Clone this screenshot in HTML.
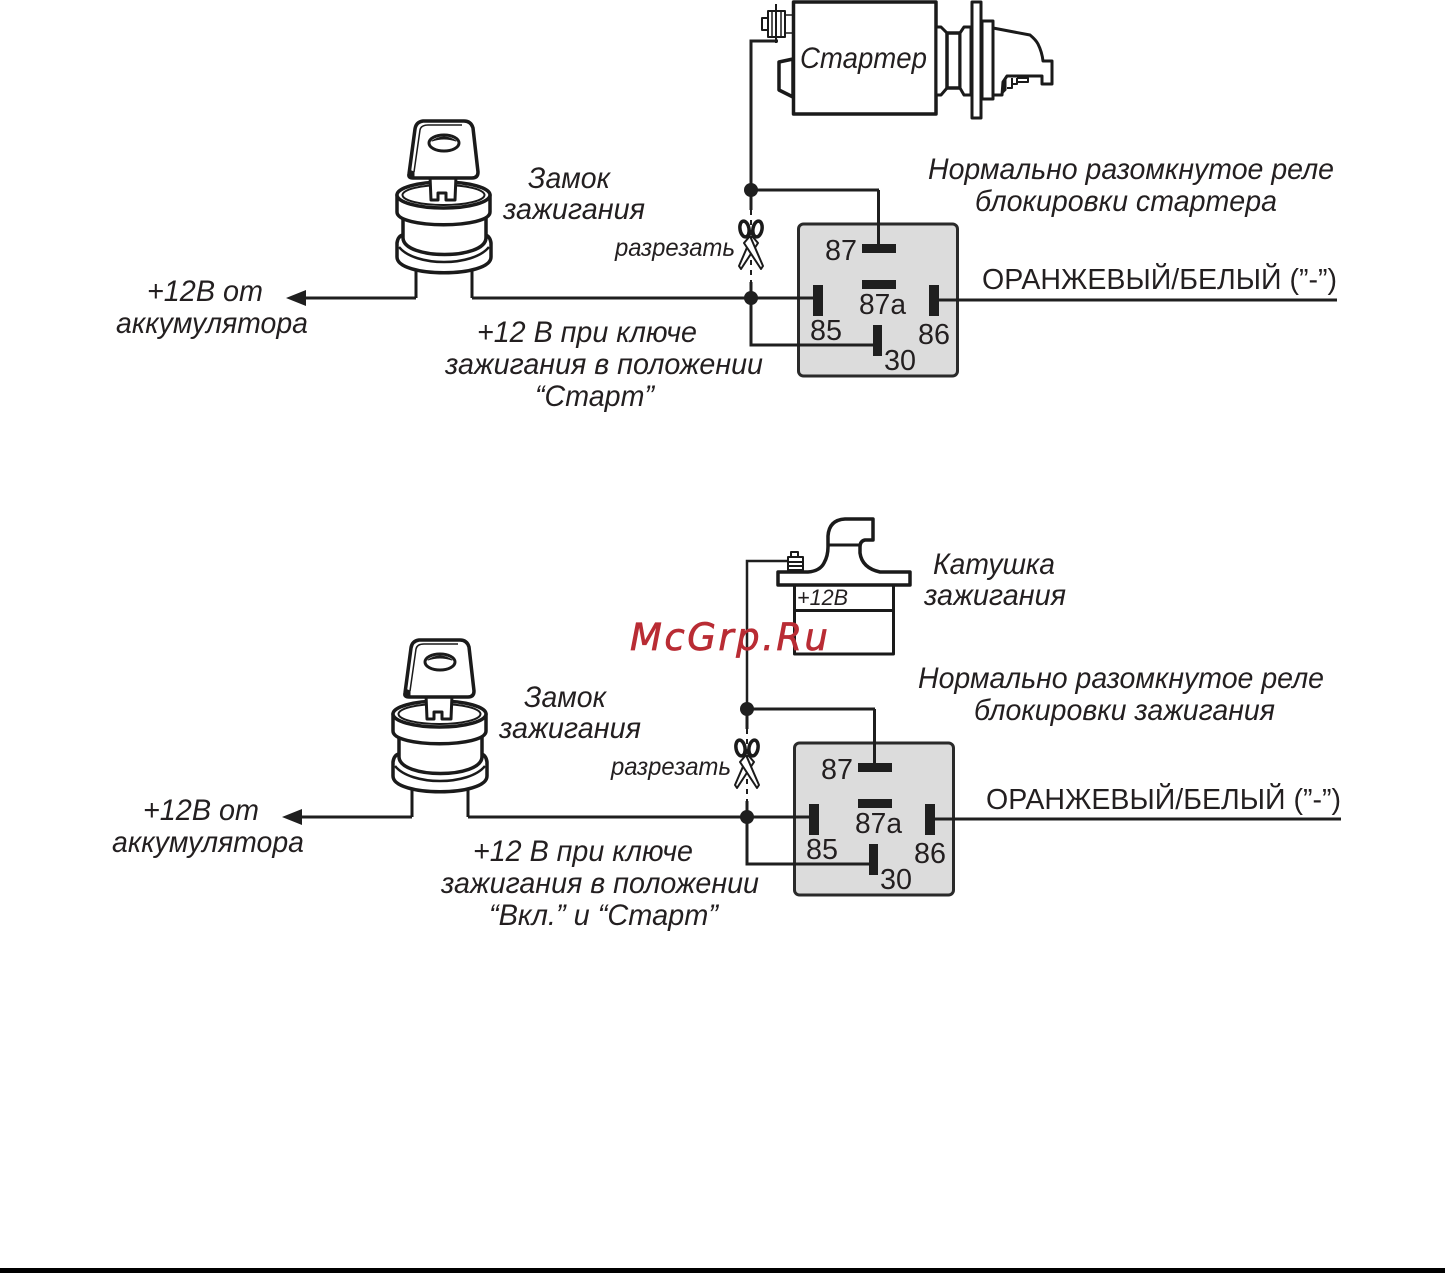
<!DOCTYPE html>
<html><head><meta charset="utf-8"><style>
html,body{margin:0;padding:0;background:#fff;width:1445px;height:1273px;overflow:hidden}
svg{display:block}
text{font-family:"Liberation Sans",sans-serif;fill:#231f20}
.i{font-style:italic;font-size:29.5px;transform:translate(0,1px)}
.s{font-style:italic;font-size:25px}
.n{font-size:29px}
</style></head><body>
<svg width="1445" height="1273" viewBox="0 0 1445 1273" xmlns="http://www.w3.org/2000/svg">
<defs>
<g id="lock" fill="#fff" stroke="#1a1a1a" stroke-width="3.500" stroke-linejoin="round">
<path d="M416 298V270H472V298" fill="none" stroke-width="3"/>
<path d="M397 243Q398 236 403 235H485Q490 236 491 243V257C491 278 397 278 397 257Z"/>
<path d="M403 215V238C404 260 485 260 486 238V215Z"/>
<path d="M399 247C415 267 473 267 489 247" fill="none" stroke-width="2.500"/>
<path d="M397 195V212C397 229 490 229 490 212V195Z"/>
<ellipse cx="443.500" cy="195" rx="46.500" ry="13"/>
<ellipse cx="443.500" cy="195" rx="41" ry="10" stroke-width="2"/>
<path d="M430 176H456L455 200H446V193H438V200H431Z" stroke-width="3"/>
<path d="M409 174L415 129Q416 122 423 121H464Q471 121 473 128L478 172Q478 178 472 178H413Q408 178 409 174Z" stroke-width="3.500"/>
<path d="M414 172L420 130Q421 125 428 125H462" fill="none" stroke-width="1.500"/>
<path d="M409 170L408 176Q409 179 414 178L414 172Z" fill="#1a1a1a" stroke-width="1"/>
<ellipse cx="444" cy="143" rx="15" ry="8" stroke-width="3"/>
<path d="M432 141Q444 133 456 141Q444 137 432 141Z" fill="#1a1a1a" stroke-width="1"/>
</g>
<g id="relay">
<rect x="798.500" y="224" width="159" height="152" rx="5" fill="#dcdcdc" stroke="#2a2a2a" stroke-width="3"/>
<rect x="862" y="244" width="34" height="9" fill="#1f1f1f"/>
<rect x="862" y="280" width="34" height="9" fill="#1f1f1f"/>
<rect x="813" y="285" width="10" height="31" fill="#1f1f1f"/>
<rect x="929" y="285" width="10" height="31" fill="#1f1f1f"/>
<rect x="873" y="325" width="9" height="31" fill="#1f1f1f"/>
<text class="n" x="825" y="260" textLength="32" lengthAdjust="spacingAndGlyphs">87</text>
<text class="n" x="859" y="314" textLength="47" lengthAdjust="spacingAndGlyphs">87a</text>
<text class="n" x="810" y="340" textLength="32" lengthAdjust="spacingAndGlyphs">85</text>
<text class="n" x="918" y="344" textLength="32" lengthAdjust="spacingAndGlyphs">86</text>
<text class="n" x="884" y="370" textLength="32" lengthAdjust="spacingAndGlyphs">30</text>
<path d="M751 298H813M751 298V345H873" fill="none" stroke="#1f1f1f" stroke-width="3"/>
<path d="M878.500 190V244" fill="none" stroke="#1f1f1f" stroke-width="3"/>
<path d="M939 300H1337" fill="none" stroke="#1f1f1f" stroke-width="3"/>
<circle cx="751" cy="298" r="7" fill="#1f1f1f"/>
<circle cx="751" cy="190" r="7" fill="#1f1f1f"/>
</g>
<g id="scissors" fill="#fff" stroke="#1a1a1a" stroke-width="2" stroke-linejoin="round">
<path d="M752 236L739 266L741 269L758 243Z"/>
<path d="M750 236L763 266L761 269L744 243Z"/>
<ellipse cx="744.500" cy="229" rx="4.500" ry="8" stroke-width="3.500" transform="rotate(-10 744.500 229)"/>
<ellipse cx="757.500" cy="229" rx="4.500" ry="8" stroke-width="3.500" transform="rotate(10 757.500 229)"/>
</g>
<g id="wires" fill="none" stroke="#1f1f1f" stroke-width="3">
<path d="M300 298H416"/>
<path d="M472 298H751"/>
<path d="M751 190V210"/>
<path d="M751 210V282" stroke-dasharray="5 5" stroke-width="2"/>
<path d="M751 282V298"/>
</g>
</defs>

<!-- top diagram -->
<use href="#wires"/>
<path d="M286 298L306 290V306Z" fill="#1f1f1f"/>
<path d="M751 190V41H778" fill="none" stroke="#1f1f1f" stroke-width="3"/>
<path d="M751 190H879" fill="none" stroke="#1f1f1f" stroke-width="3"/>
<use href="#lock"/>
<use href="#scissors"/>
<use href="#relay"/>

<!-- starter -->
<g fill="#fff" stroke="#1a1a1a" stroke-width="3" stroke-linejoin="round">
<path d="M793 59L779 62V90L793 97Z" stroke-width="3.500"/>
<rect x="785" y="15" width="8" height="18" stroke-width="1.500"/>
<rect x="768" y="11" width="17" height="26" stroke-width="2"/>
<rect x="762" y="18" width="6" height="12" stroke-width="2"/>
<path d="M772 11V37M781 11V37" fill="none" stroke-width="1.500"/>
<path d="M776 4V43" fill="none" stroke-width="2"/>
<rect x="793.500" y="2" width="142.500" height="112" stroke-width="3.500"/>
<path d="M936 27H941L947 33V88L941 95H936Z"/>
<path d="M947 33H960V88H947Z" stroke-width="3.500"/>
<path d="M960 33L964 27H971V95H964L960 88Z"/>
<rect x="972" y="2" width="9" height="116" stroke-width="3"/>
<path d="M982 21H993V99H982Z"/>
<path d="M993 28L1030 35Q1036 40 1038 44Q1042 52 1043 61H1052V84H1042V76H1007L1003 82L1002 95H993Z"/>
<path d="M1012 78V88H1007M1017 78V84H1012M1017 78H1028V82H1017" fill="none" stroke-width="2"/>
<path d="M1006 77L1002 84V94L1006 90Z" fill="#1a1a1a" stroke-width="1"/>
</g>

<!-- bottom diagram -->
<g transform="translate(-4,519)">
<use href="#wires"/>
<path d="M286 298L306 290V306Z" fill="#1f1f1f"/>
<path d="M751 190V42H791" fill="none" stroke="#1f1f1f" stroke-width="2.500"/>
<path d="M751 190H879" fill="none" stroke="#1f1f1f" stroke-width="3"/>
<use href="#lock"/>
<use href="#scissors"/>
<use href="#relay"/>
</g>
<path d="M1333 819H1341" fill="none" stroke="#1f1f1f" stroke-width="3"/>

<!-- ignition coil -->
<g fill="#fff" stroke="#1a1a1a" stroke-width="3" stroke-linejoin="round">
<rect x="794.500" y="585" width="99" height="69"/>
<path d="M794 610.500H894" fill="none"/>
<path d="M778 572H808Q820 571 824 563Q828 556 828 547V536Q829 520 845 519H873V540H865Q860 541 860 547V553Q862 568 880 572H910V585H778Z" stroke-width="3.500"/>
<path d="M828 545H860" fill="none"/>
<rect x="791" y="552" width="7" height="6" stroke-width="2"/>
<rect x="788" y="557" width="15" height="13" stroke-width="2"/>
<path d="M787 562H804M787 566H804M792 570V572M798 570V572" fill="none" stroke-width="2"/>
</g>
<text x="797" y="605" font-style="italic" font-size="22" textLength="51" lengthAdjust="spacingAndGlyphs">+12В</text>

<!-- labels top -->
<g>
<text class="i" x="800" y="67" textLength="127" lengthAdjust="spacingAndGlyphs">Стартер</text>
<text class="i" x="528" y="187" textLength="82" lengthAdjust="spacingAndGlyphs">Замок</text>
<text class="i" x="503" y="218" textLength="142" lengthAdjust="spacingAndGlyphs">зажигания</text>
<text class="i" x="928" y="178" textLength="406" lengthAdjust="spacingAndGlyphs">Нормально разомкнутое реле</text>
<text class="i" x="975" y="210" textLength="302" lengthAdjust="spacingAndGlyphs">блокировки стартера</text>
<text class="s" x="615" y="256" textLength="120" lengthAdjust="spacingAndGlyphs">разрезать</text>
<text x="982" y="289" font-size="29" textLength="355" lengthAdjust="spacingAndGlyphs">ОРАНЖЕВЫЙ/БЕЛЫЙ (”-”)</text>
<text class="i" x="147" y="300" textLength="116" lengthAdjust="spacingAndGlyphs">+12В от</text>
<text class="i" x="116" y="332" textLength="192" lengthAdjust="spacingAndGlyphs">аккумулятора</text>
<text class="i" x="477" y="341" textLength="220" lengthAdjust="spacingAndGlyphs">+12 В при ключе</text>
<text class="i" x="445" y="373" textLength="318" lengthAdjust="spacingAndGlyphs">зажигания в положении</text>
<text class="i" x="535" y="405" textLength="119" lengthAdjust="spacingAndGlyphs">“Старт”</text>
</g>

<!-- labels bottom -->
<g>
<text class="i" x="933" y="573" textLength="122" lengthAdjust="spacingAndGlyphs">Катушка</text>
<text class="i" x="924" y="604" textLength="142" lengthAdjust="spacingAndGlyphs">зажигания</text>
<text class="i" x="524" y="706" textLength="82" lengthAdjust="spacingAndGlyphs">Замок</text>
<text class="i" x="499" y="737" textLength="142" lengthAdjust="spacingAndGlyphs">зажигания</text>
<text class="i" x="918" y="687" textLength="406" lengthAdjust="spacingAndGlyphs">Нормально разомкнутое реле</text>
<text class="i" x="974" y="719" textLength="301" lengthAdjust="spacingAndGlyphs">блокировки зажигания</text>
<text class="s" x="611" y="775" textLength="120" lengthAdjust="spacingAndGlyphs">разрезать</text>
<text x="986" y="809" font-size="29" textLength="355" lengthAdjust="spacingAndGlyphs">ОРАНЖЕВЫЙ/БЕЛЫЙ (”-”)</text>
<text class="i" x="143" y="819" textLength="116" lengthAdjust="spacingAndGlyphs">+12В от</text>
<text class="i" x="112" y="851" textLength="192" lengthAdjust="spacingAndGlyphs">аккумулятора</text>
<text class="i" x="473" y="860" textLength="220" lengthAdjust="spacingAndGlyphs">+12 В при ключе</text>
<text class="i" x="441" y="892" textLength="318" lengthAdjust="spacingAndGlyphs">зажигания в положении</text>
<text class="i" x="489" y="924" textLength="229" lengthAdjust="spacingAndGlyphs">“Вкл.” и “Старт”</text>
</g>

<text x="630" y="650" font-style="italic" style="font-family:'DejaVu Sans',sans-serif;fill:#b92c34;stroke:#b92c34;stroke-width:.7" font-size="37" textLength="198" lengthAdjust="spacing">McGrp.Ru</text>

<rect x="0" y="1268" width="1445" height="5" fill="#000"/>
</svg>
</body></html>
